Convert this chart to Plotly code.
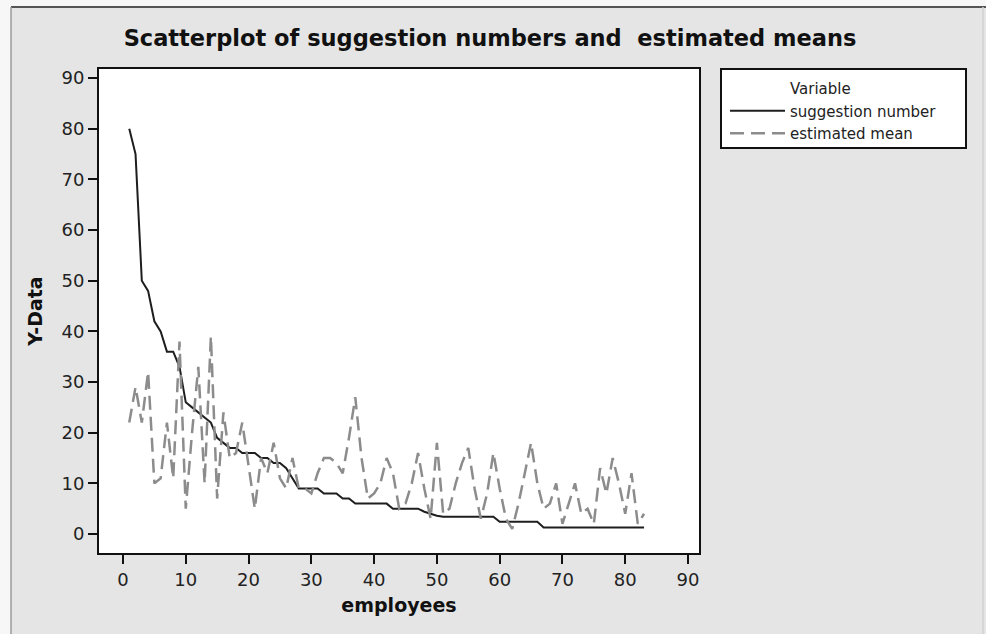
import plotly.graph_objects as go

# ---- data ----
employees = list(range(1, 84))
suggestion_number = [80, 75, 50, 48, 42, 40, 36, 36, 33, 26,
                     25, 24, 23, 22, 19, 18, 17, 17, 16, 16,
                     16, 15, 15, 14, 14, 13, 11, 9, 9, 9,
                     9, 8, 8, 8, 7, 7, 6, 6, 6, 6,
                     6, 6, 5, 5, 5, 5, 5, 4.4, 4, 3.6,
                     3.4, 3.4, 3.4, 3.4, 3.4, 3.4, 3.4, 3.4, 3.4, 2.4,
                     2.4, 2.4, 2.4, 2.4, 2.4, 2.4, 1.3, 1.3, 1.3, 1.3,
                     1.3, 1.3, 1.3, 1.3, 1.3, 1.3, 1.3, 1.3, 1.3, 1.3,
                     1.3, 1.3, 1.3]
estimated_mean = [22, 29, 22, 32, 10, 11, 22, 11, 38, 5,
                  20, 33, 10, 39, 7, 24, 15, 16, 22, 13,
                  5, 15, 12, 18, 11, 9, 15, 9, 9, 8,
                  12, 15, 15, 14, 12, 19, 27, 15, 7, 8,
                  10, 15, 12, 5, 6, 10, 16, 9, 3, 18,
                  4, 5, 10, 14, 17, 9, 3, 8, 16, 9,
                  3, 1, 6, 12, 18, 10, 5, 6, 10, 2,
                  6, 10, 4, 5, 2, 13, 8, 15, 10, 4,
                  12, 2, 4]
tick_values = [0, 10, 20, 30, 40, 50, 60, 70, 80, 90]

title_text = "Scatterplot of suggestion numbers and  estimated means"

W, H = 986, 634
L, R, T, B = 99, 699, 69, 553  # plot area in px


def px_x(p):
    return (p - L) / (R - L)


def px_y(p):
    return (B - p) / (B - T)


fig = go.Figure()
# legend header entry (no visible symbol)
fig.add_trace(go.Scatter(x=[None], y=[None], mode="lines", name="Variable",
                         line=dict(color="rgba(0,0,0,0)", width=2),
                         hoverinfo="skip"))
fig.add_trace(go.Scatter(x=employees, y=suggestion_number, mode="lines",
                         name="suggestion number",
                         line=dict(color="#1e1e1e", width=2)))
fig.add_trace(go.Scatter(x=employees, y=estimated_mean, mode="lines",
                         name="estimated mean",
                         line=dict(color="#8c8c8c", width=2.5, dash="14px,7px")))

axis_common = dict(
    showgrid=False, zeroline=False, showline=True, mirror=True,
    linecolor="#111111", linewidth=2,
    ticks="outside", ticklen=9, tickwidth=2, tickcolor="#111111",
    tickvals=tick_values,
    tickfont=dict(family="DejaVu Sans", size=18, color="#222222"),
)

fig.update_layout(
    width=W, height=H,
    margin=dict(l=L, r=W - R, t=T, b=H - B, pad=0),
    paper_bgcolor="#e5e5e5",
    plot_bgcolor="white",
    title=dict(text=title_text, x=490 / W, xanchor="center",
               y=1 - 38 / H, yanchor="middle",
               font=dict(family="DejaVu Sans", size=22.5, weight="bold",
                         color="#111111")),
    xaxis=dict(range=[-3.82, 91.75],
               title=dict(text="employees", standoff=10,
                          font=dict(family="DejaVu Sans", size=19,
                                    weight="bold", color="#111111")),
               **axis_common),
    yaxis=dict(range=[-3.75, 91.8],
               title=dict(text="Y-Data", standoff=14,
                          font=dict(family="DejaVu Sans", size=19,
                                    weight="bold", color="#111111")),
               **axis_common),
    showlegend=True,
    legend=dict(x=px_x(725), y=px_y(72), xanchor="left", yanchor="top",
                bgcolor="rgba(0,0,0,0)", borderwidth=0,
                itemwidth=55,
                font=dict(family="DejaVu Sans", size=15, color="#222222")),
    shapes=[
        # legend box
        dict(type="rect", xref="paper", yref="paper", layer="below",
             x0=px_x(721), x1=px_x(966), y0=px_y(148), y1=px_y(69),
             line=dict(color="#111111", width=2), fillcolor="white"),
        # outer white margins of the picture
        dict(type="rect", xref="paper", yref="paper", layer="below",
             x0=px_x(0), x1=px_x(W), y0=px_y(7), y1=px_y(0),
             line=dict(width=0), fillcolor="#f7f7f7"),
        dict(type="rect", xref="paper", yref="paper", layer="below",
             x0=px_x(0), x1=px_x(11), y0=px_y(H), y1=px_y(0),
             line=dict(width=0), fillcolor="#f7f7f7"),
        # frame lines
        dict(type="line", xref="paper", yref="paper", layer="below",
             x0=px_x(11), x1=px_x(W), y0=px_y(7), y1=px_y(7),
             line=dict(color="#555555", width=2)),
        dict(type="line", xref="paper", yref="paper", layer="below",
             x0=px_x(11), x1=px_x(11), y0=px_y(H), y1=px_y(7),
             line=dict(color="#9a9a9a", width=1.5)),
        dict(type="line", xref="paper", yref="paper", layer="below",
             x0=px_x(983), x1=px_x(983), y0=px_y(H), y1=px_y(7),
             line=dict(color="#d0d0d0", width=1.5)),
    ],
)

fig.write_html("out.html")
